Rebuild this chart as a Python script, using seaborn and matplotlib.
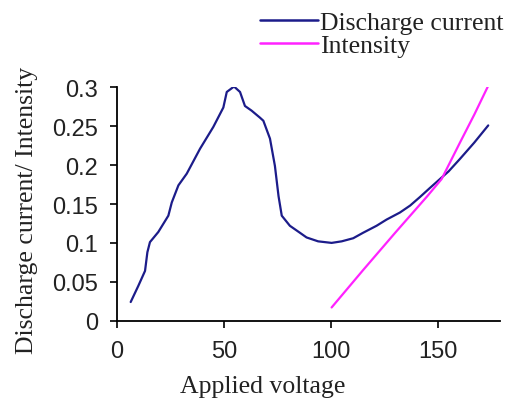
import matplotlib
matplotlib.use("Agg")
import matplotlib.pyplot as plt
import seaborn as sns
import pandas as pd

# Discharge current series
dc_voltage = [6.4, 10, 13.1, 14.2, 15.4, 19.3, 24.0, 25.6, 28.7, 32.6, 38.8, 45.0, 49.7,
              51.3, 54.7, 57.5, 59.8, 62.9, 66.8, 68.4, 71.5, 73.8, 75.5, 77.0,
              80.8, 85.5, 88.6, 94, 100.3, 105, 110.4, 115, 121.3, 126, 132.2, 137,
              141.6, 146, 150.9, 155, 160.3, 167, 173.5]
dc_values = [0.024, 0.045, 0.064, 0.088, 0.101, 0.114, 0.135, 0.152, 0.174, 0.189, 0.221,
             0.249, 0.274, 0.294, 0.301, 0.294, 0.276, 0.270, 0.261, 0.257, 0.234, 0.199,
             0.160, 0.135, 0.122, 0.113, 0.107, 0.102, 0.100, 0.102, 0.106, 0.113,
             0.122, 0.130, 0.139, 0.148, 0.159, 0.170, 0.182, 0.192, 0.208, 0.229, 0.251]

# Intensity series
int_voltage = [100.3, 115, 130, 145, 151.7, 160.3, 167, 173.5]
int_values = [0.017, 0.065, 0.113, 0.160, 0.182, 0.229, 0.265, 0.302]

x_ticks = [0, 50, 100, 150]
y_ticks = [0, 0.05, 0.1, 0.15, 0.2, 0.25, 0.3]
y_tick_labels = ["0", "0.05", "0.1", "0.15", "0.2", "0.25", "0.3"]

series_names = ["Discharge current", "Intensity"]
colors = ["#1c1c8a", "#ff22ff"]

df = pd.concat([
    pd.DataFrame({"voltage": dc_voltage, "value": dc_values, "series": series_names[0]}),
    pd.DataFrame({"voltage": int_voltage, "value": int_values, "series": series_names[1]}),
])

sns.set_theme(style="ticks")
fig = plt.figure(figsize=(5.16, 4.02), dpi=100)
ax = fig.add_axes([117 / 516, 1 - 321.7 / 402, (500 - 117) / 516, (321.7 - 88.3) / 402])

sns.lineplot(data=df, x="voltage", y="value", hue="series", palette=colors,
             sort=False, estimator=None, linewidth=1.6, ax=ax, legend=False)

ax.set_xlim(0, 179)
ax.set_ylim(0, 0.3)
ax.set_xticks(x_ticks)
ax.set_yticks(y_ticks)
ax.set_yticklabels(y_tick_labels)
for lab in ax.get_xticklabels() + ax.get_yticklabels():
    lab.set_fontfamily("Liberation Sans")
    lab.set_fontsize(17)
ax.tick_params(axis="both", direction="out", length=5, width=1.2, colors="black")
ax.tick_params(axis="y", pad=8.5, labelcolor="#222222")
ax.tick_params(axis="x", pad=9, labelcolor="#222222")
sns.despine(ax=ax, top=True, right=True)
for s in ("left", "bottom"):
    ax.spines[s].set_linewidth(1.3)
    ax.spines[s].set_color("black")

xl = ax.set_xlabel("Applied voltage", fontfamily="Liberation Serif", fontsize=18.5, color="#222222")
ax.xaxis.set_label_coords((263 - 117) / 383, (321.7 - 393) / 233.4)
xl.set_verticalalignment("baseline")
yl = ax.set_ylabel("Discharge current/ Intensity", fontfamily="Liberation Serif", fontsize=18.5,
                   color="#222222")
ax.yaxis.set_label_coords((33 - 117) / 383, (321.7 - 210) / 233.4)
yl.set_verticalalignment("baseline")

handles = [plt.Line2D([], [], color=c, linewidth=1.8) for c in colors]
leg = fig.legend(handles, series_names, loc="upper left", bbox_to_anchor=(260 / 516, 1 - 12 / 402),
                 frameon=False, prop={"family": "Liberation Serif", "size": 18.5},
                 handlelength=2.25, handletextpad=0.08, labelspacing=0.0, borderpad=0.0,
                 borderaxespad=0.0, labelcolor="#222222")

fig.savefig("out.png", dpi=100)
